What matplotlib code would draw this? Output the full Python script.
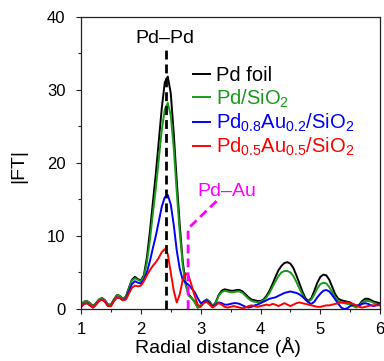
import numpy as np
import matplotlib
matplotlib.use("Agg")
import matplotlib.pyplot as plt

plt.rcParams['font.family'] = ['Liberation Sans', 'DejaVu Sans']
plt.rcParams['mathtext.default'] = 'regular'

# Radial distance grid (Å)
r = np.linspace(1.0, 6.0, 101)

pd_foil = [0.6, 1.0, 1.1, 0.8, 0.4, 0.8, 1.3, 1.5, 1.2, 0.6,
           0.6, 1.3, 1.9, 1.8, 1.4, 1.7, 2.9, 4.0, 4.4, 4.1,
           3.9, 4.6, 7.0, 10.5, 14.5, 18.5, 23.0, 27.5, 31.0, 31.8,
           29.5, 24.0, 17.5, 11.5, 6.5, 3.5, 2.0, 1.5, 1.0, 0.2,
           0.4, 1.0, 1.3, 1.0, 0.4, 0.9, 1.9, 2.5, 2.7, 2.6,
           2.5, 2.5, 2.6, 2.6, 2.4, 2.0, 1.6, 1.3, 1.2, 1.1,
           1.1, 1.3, 1.8, 2.5, 3.4, 4.4, 5.3, 5.9, 6.3, 6.4,
           6.2, 5.6, 4.6, 3.5, 2.4, 1.5, 1.1, 1.5, 2.5, 3.6,
           4.4, 4.7, 4.6, 4.0, 3.0, 2.0, 1.4, 1.2, 1.1, 1.0,
           0.9, 0.6, 0.3, 0.6, 1.1, 1.4, 1.4, 1.2, 1.0, 0.9, 0.8]

pd_sio2 = [0.6, 1.0, 1.1, 0.8, 0.4, 0.8, 1.3, 1.5, 1.2, 0.6,
           0.6, 1.3, 1.9, 1.8, 1.4, 1.7, 2.8, 3.9, 4.2, 4.0,
           3.8, 4.4, 6.3, 9.3, 13.0, 16.5, 20.5, 24.5, 27.3, 28.2,
           26.5, 22.0, 16.0, 10.5, 6.0, 3.2, 1.8, 1.5, 0.9, 0.2,
           0.4, 1.0, 1.3, 1.0, 0.4, 0.8, 1.8, 2.3, 2.5, 2.4,
           2.3, 2.3, 2.4, 2.4, 2.2, 1.8, 1.4, 1.1, 1.0, 0.9,
           1.0, 1.2, 1.6, 2.2, 3.0, 3.8, 4.5, 5.0, 5.2, 5.2,
           5.0, 4.5, 3.7, 2.8, 2.0, 1.3, 1.0, 1.3, 2.0, 2.8,
           3.4, 3.6, 3.5, 3.0, 2.3, 1.6, 1.1, 0.9, 0.8, 0.7,
           0.6, 0.4, 0.2, 0.5, 0.9, 1.1, 1.1, 1.0, 0.8, 0.7, 0.6]

pd08au02 = [0.3, 0.7, 0.8, 0.5, 0.2, 0.6, 1.1, 1.3, 1.0, 0.4,
            0.4, 1.1, 1.6, 1.5, 1.2, 1.4, 2.4, 3.4, 3.8, 3.6,
            3.5, 4.0, 5.0, 6.5, 8.3, 10.0, 12.0, 14.0, 15.3, 15.6,
            14.3, 11.5, 8.0, 5.5, 4.0, 3.6, 3.3, 2.8, 2.3, 1.5,
            0.8, 1.0, 1.2, 0.8, 0.3, 0.6, 0.9, 0.8, 0.6, 0.6,
            0.7, 0.8, 0.8, 0.7, 0.5, 0.3, 0.2, 0.3, 0.5, 0.6,
            0.8, 1.0, 1.2, 1.4, 1.5, 1.6, 1.8, 2.0, 2.2, 2.3,
            2.4, 2.3, 2.2, 2.0, 1.7, 1.3, 0.9, 0.7, 1.0, 1.6,
            2.1, 2.5, 2.6, 2.4, 1.9, 1.3, 0.7, 0.2, 0.0, 0.1,
            0.4, 0.6, 0.5, 0.5, 0.7, 0.8, 0.7, 0.5, 0.4, 0.6, 0.8]

pd05au05 = [0.3, 0.7, 0.8, 0.5, 0.2, 0.6, 1.1, 1.3, 1.0, 0.4,
            0.4, 1.1, 1.6, 1.5, 1.2, 1.3, 2.1, 2.9, 3.2, 3.1,
            3.2, 3.8, 4.6, 5.3, 5.9, 6.4, 7.0, 7.8, 8.2, 7.5,
            5.0, 2.5, 0.9, 2.0, 4.0, 4.9, 4.5, 3.2, 1.8, 0.6,
            0.3, 0.8, 1.0, 0.6, 0.2, 0.5, 0.8, 0.6, 0.3, 0.2,
            0.3, 0.4, 0.3, 0.2, 0.1, 0.2, 0.4, 0.5, 0.4, 0.3,
            0.4, 0.5, 0.6, 0.5, 0.7, 0.6, 0.4, 0.6, 0.8, 0.6,
            0.4, 0.6, 0.8, 0.9, 0.8, 0.7, 0.6, 0.5, 0.4, 0.3,
            0.3, 0.4, 0.5, 0.5, 0.6, 0.7, 0.8, 0.9, 0.9, 0.9,
            0.8, 0.7, 0.5, 0.3, 0.2, 0.3, 0.4, 0.5, 0.5, 0.5, 0.5]

series = [pd_foil, pd_sio2, pd08au02, pd05au05]
labels = ['Pd foil', 'Pd/SiO$_2$', 'Pd$_{0.8}$Au$_{0.2}$/SiO$_2$',
          'Pd$_{0.5}$Au$_{0.5}$/SiO$_2$']
colors = ['#000000', '#1a9a1a', '#0000ff', '#ff0000']

# Annotation guides
pdpd_r, pdpd_top = 2.42, 35.8
pdau_r, pdau_knee, pdau_end = 2.79, 11.0, (3.32, 15.2)

fig = plt.figure(figsize=(3.84, 3.61), dpi=100)
ax = fig.add_axes([0.211, 0.144, 0.779, 0.810])

for y, lab, c in zip(series, labels, colors):
    ax.plot(r, y, color=c, lw=1.4, label=lab)

ax.plot([pdpd_r, pdpd_r], [0, pdpd_top], color='black', lw=2.0,
        dashes=(3.2, 1.8))
ax.plot([pdau_r, pdau_r, pdau_end[0]], [0, pdau_knee, pdau_end[1]],
        color='#ff00ff', lw=2.0, dashes=(3.2, 1.8))

ax.text(2.40, 36.4, 'Pd–Pd', ha='center', va='baseline', fontsize=14)
ax.text(3.44, 15.5, 'Pd–Au', ha='center', va='baseline', fontsize=14,
        color='#ff00ff')

ax.set_xlim(1, 6)
ax.set_ylim(0, 40)
ax.set_xticks([1, 2, 3, 4, 5, 6])
ax.set_xticks(np.arange(1.5, 6, 1.0), minor=True)
ax.set_yticks([0, 10, 20, 30, 40])
ax.set_yticks([5, 15, 25, 35], minor=True)
ax.tick_params(which='major', direction='out', length=3.6, width=0.8,
               labelsize=12, color='#222222')
ax.tick_params(which='minor', direction='out', length=2.4, width=0.8,
               color='#222222')
ax.tick_params(axis='y', pad=7.5)
ax.tick_params(axis='x', pad=5.5)
for s in ax.spines.values():
    s.set_linewidth(0.9)
    s.set_color('#222222')

ax.set_xlabel('Radial distance (Å)', fontsize=14)
ax.xaxis.set_label_coords(0.458, -0.097)
ax.set_ylabel('|FT|', fontsize=14)
ax.yaxis.set_label_coords(-0.18, 0.489)

leg = ax.legend(loc='upper left', bbox_to_anchor=(0.375, 0.83),
                frameon=False, fontsize=14.5, borderaxespad=0, borderpad=0,
                handlelength=0.85, handletextpad=0.3, labelspacing=0.1)
for t, c in zip(leg.get_texts(), colors):
    t.set_color(c)

fig.savefig('out.png', dpi=100)
